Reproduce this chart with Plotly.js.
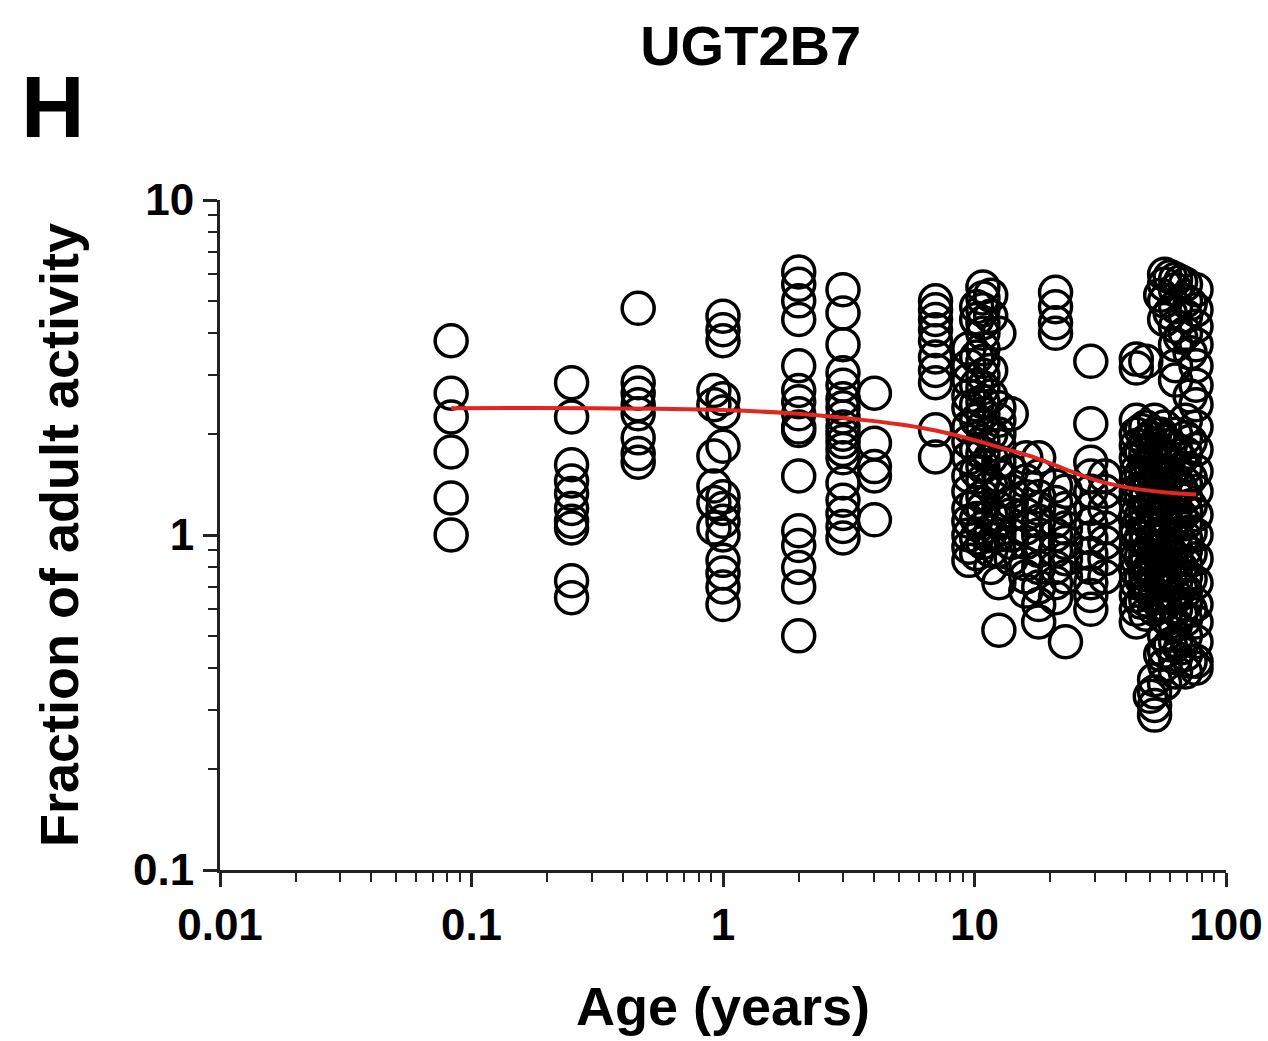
<!DOCTYPE html>
<html>
<head>
<meta charset="utf-8">
<script src="https://cdn.plot.ly/plotly-3.0.1.min.js"></script>
<style>
  html, body { margin: 0; padding: 0; background: #fff; }
  #chart { width: 1268px; height: 1041px; }
</style>
</head>
<body>
<div id="chart"></div>
<script>
// Age groups (years) and the measured fraction of adult activity at each age
const ageGroups = [0.083, 0.25, 0.46, 0.92, 1.0, 2.0, 3.0, 4.0, 7.0,
  9.5, 10.2, 10.8, 11.6, 12.5, 14, 16, 18, 21, 23, 29, 33,
  44, 46, 48, 50, 52, 55, 57, 60, 63, 66, 69, 72, 76];

const activityByAge = [
  [3.8, 2.65, 2.25, 1.77, 1.29, 1.0],
  [2.85, 2.25, 1.62, 1.45, 1.33, 1.2, 1.1, 1.05, 0.73, 0.65],
  [4.75, 2.85, 2.65, 2.45, 2.3, 1.95, 1.75, 1.65],
  [2.7, 2.45, 1.72, 1.4, 1.25, 1.05],
  [4.5, 4.1, 3.8, 2.55, 2.33, 1.84, 1.3, 1.2, 1.1, 1.0, 0.84, 0.77, 0.70, 0.62],
  [6.1, 5.6, 5.0, 4.4, 3.2, 2.7, 2.5, 2.3, 2.1, 2.05, 1.5, 1.03, 0.93, 0.80, 0.70, 0.50],
  [5.4, 4.6, 3.7, 3.05, 2.8, 2.55, 2.4, 2.25, 2.1, 2.0, 1.9, 1.8, 1.7, 1.43, 1.27, 1.16, 1.06, 0.98],
  [2.65, 1.88, 1.6, 1.5, 1.11],
  [5.0, 4.7, 4.4, 4.1, 3.8, 3.4, 3.1, 2.85, 2.06, 1.71],
  [3.6, 3.2, 2.9, 2.6, 2.4, 2.1, 1.9, 1.7, 1.5, 1.35, 1.2, 1.1, 1.0, 0.92, 0.84],
  [4.8, 4.4, 3.4, 2.8, 2.45, 2.2, 1.8, 1.55, 1.25, 1.12, 0.98, 0.88],
  [5.5, 5.1, 4.7, 4.3, 4.0, 3.6, 3.3, 3.0, 2.75, 2.5, 2.3, 2.1, 1.9, 1.75, 1.6, 1.45, 1.3, 1.2, 1.05, 0.95],
  [5.2, 4.5, 3.1, 2.6, 2.0, 1.7, 1.4, 1.15, 1.02, 0.9, 0.8],
  [4.0, 2.4, 2.2, 2.0, 1.85, 1.65, 1.5, 1.35, 1.2, 1.1, 1.0, 0.9, 0.72, 0.52],
  [2.3, 1.55, 1.35, 1.25, 1.15, 1.0, 0.95, 0.85],
  [1.7, 1.45, 1.3, 1.15, 1.05, 0.95, 0.82, 0.75, 0.68],
  [1.7, 1.5, 1.3, 1.2, 1.1, 1.0, 0.9, 0.8, 0.7, 0.62, 0.55],
  [5.3, 4.8, 4.3, 4.0, 1.4, 1.25, 1.1, 1.0, 0.9, 0.8, 0.72, 0.65],
  [1.35, 1.2, 1.05, 0.95, 0.85, 0.75, 0.48],
  [3.3, 2.15, 1.65, 1.5, 1.35, 1.2, 1.08, 0.98, 0.88, 0.8, 0.72, 0.66, 0.6],
  [1.5, 1.35, 1.2, 1.05, 0.95, 0.85, 0.75],
  [3.35, 3.15, 2.2, 2.0, 1.85, 1.7, 1.55, 1.45, 1.35, 1.25, 1.15, 1.05, 1.0, 0.92, 0.85, 0.78, 0.72, 0.66, 0.6, 0.55],
  [2.05, 1.78, 1.52, 1.32, 1.14, 0.98, 0.86, 0.74, 0.63],
  [3.3, 2.1, 1.9, 1.75, 1.6, 1.48, 1.38, 1.28, 1.18, 1.1, 1.02, 0.95, 0.88, 0.82, 0.76, 0.7, 0.64, 0.58],
  [1.95, 1.62, 1.42, 1.22, 1.06, 0.92, 0.8, 0.69, 0.33],
  [2.2, 2.0, 1.8, 1.65, 1.5, 1.4, 1.3, 1.2, 1.12, 1.04, 0.97, 0.9, 0.83, 0.77, 0.71, 0.65, 0.6, 0.37, 0.34, 0.31, 0.29],
  [5.2, 2.0, 1.72, 1.48, 1.28, 1.12, 0.96, 0.84, 0.72, 0.62, 0.44],
  [6.0, 5.6, 5.0, 4.4, 2.1, 1.9, 1.7, 1.55, 1.42, 1.3, 1.2, 1.1, 1.0, 0.93, 0.86, 0.8, 0.74, 0.68, 0.62, 0.57, 0.5, 0.45, 0.41, 0.36],
  [5.9, 4.6, 1.85, 1.52, 1.25, 1.05, 0.89, 0.76, 0.65, 0.55, 0.47],
  [5.8, 5.4, 4.8, 4.2, 3.7, 3.2, 2.9, 2.0, 1.8, 1.6, 1.45, 1.32, 1.2, 1.1, 1.0, 0.92, 0.85, 0.78, 0.72, 0.66, 0.6, 0.54, 0.48, 0.43, 0.39],
  [5.7, 3.9, 1.68, 1.38, 1.14, 0.95, 0.8, 0.69, 0.58, 0.46],
  [5.6, 5.0, 4.5, 4.0, 2.2, 1.95, 1.75, 1.58, 1.42, 1.3, 1.18, 1.08, 0.98, 0.9, 0.82, 0.75, 0.68, 0.62, 0.56, 0.5, 0.44, 0.39],
  [4.9, 3.5, 2.6, 1.9, 1.48, 1.22, 1.02, 0.88, 0.74, 0.6, 0.42],
  [5.4, 4.7, 4.2, 3.7, 3.2, 2.8, 2.45, 2.1, 1.8, 1.55, 1.35, 1.15, 1.0, 0.85, 0.72, 0.62, 0.55, 0.48, 0.42, 0.4]
];

// Fitted maturation curve
const fitAge = [0.083, 0.3, 1, 2, 3.5, 5, 7, 9.5, 12.5, 17.5, 23, 31, 42, 58, 76];
const fitValue = [2.39, 2.39, 2.36, 2.30, 2.21, 2.14, 2.05, 1.94, 1.83, 1.70, 1.57, 1.45, 1.38, 1.34, 1.32];

// Axis ticks
const xTickVals = [0.01, 0.1, 1, 10, 100];
const xTickText = ["0.01", "0.1", "1", "10", "100"];
const yTickVals = [0.1, 1, 10];
const yTickText = ["0.1", "1", "10"];

const ptX = [], ptY = [];
ageGroups.forEach((a, i) => {
  activityByAge[i].forEach(v => { ptX.push(a); ptY.push(v); });
});

const FONT = "Liberation Sans, Arial, Helvetica, sans-serif";
const bold = arr => arr.map(t => "<b>" + t + "</b>");

const traces = [
  {
    type: "scatter", mode: "markers", x: ptX, y: ptY,
    marker: { symbol: "circle-open", size: 32, color: "#000", line: { width: 3.5, color: "#000" } },
    cliponaxis: false, showlegend: false, hoverinfo: "x+y"
  },
  {
    type: "scatter", mode: "lines", x: fitAge, y: fitValue,
    line: { color: "#e3261f", width: 4, shape: "spline", smoothing: 1 },
    showlegend: false
  }
];

const layout = {
  width: 1268, height: 1041,
  margin: { l: 220, r: 42, t: 200, b: 171 },
  paper_bgcolor: "#fff", plot_bgcolor: "#fff",
  font: { family: FONT, color: "#000" },
  title: {
    text: "<b>UGT2B7</b>", font: { family: FONT, size: 56, color: "#000" },
    x: 0.592, xanchor: "center", y: 0.956, yanchor: "middle", xref: "container", yref: "container"
  },
  xaxis: {
    type: "log", range: [-2, 2], showgrid: false, zeroline: false,
    showline: true, linecolor: "#222", linewidth: 3,
    ticks: "outside", ticklen: 14, tickwidth: 3, tickcolor: "#222",
    tickvals: xTickVals, ticktext: bold(xTickText),
    tickfont: { family: FONT, size: 44, color: "#000", weight: "bold" },
    minor: { ticks: "outside", ticklen: 9, tickwidth: 2, tickcolor: "#222", dtick: "D1", showgrid: false },
    title: { text: "<b>Age (years)</b>", font: { family: FONT, size: 54, color: "#000" }, standoff: 40 }
  },
  yaxis: {
    type: "log", range: [-1, 1], showgrid: false, zeroline: false,
    showline: true, linecolor: "#222", linewidth: 3,
    ticks: "outside", ticklen: 14, tickwidth: 3, tickcolor: "#222",
    tickvals: yTickVals, ticktext: bold(yTickText),
    tickfont: { family: FONT, size: 44, color: "#000", weight: "bold" },
    minor: { ticks: "outside", ticklen: 9, tickwidth: 2, tickcolor: "#222", dtick: "D1", showgrid: false },
    title: { text: "<b>Fraction of adult activity</b>", font: { family: FONT, size: 54, color: "#000" }, standoff: 38 }
  },
  annotations: [
    {
      text: "<b>H</b>", xref: "paper", yref: "paper", x: -0.2, y: 1.14,
      xanchor: "left", yanchor: "middle", showarrow: false,
      font: { family: FONT, size: 88, color: "#000" }
    }
  ]
};

Plotly.newPlot("chart", traces, layout, { displayModeBar: false, staticPlot: true });
</script>
</body>
</html>
